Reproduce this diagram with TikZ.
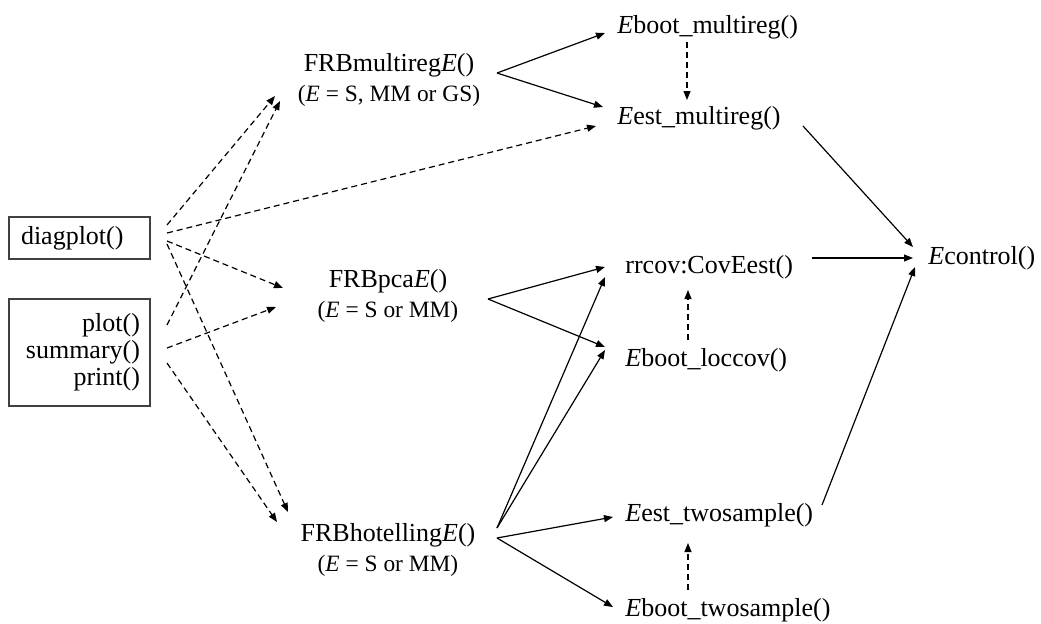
\documentclass[tikz,border=0pt]{standalone}
\usepackage{fontspec}
\setmainfont{Liberation Serif}
\usetikzlibrary{arrows.meta}
\tikzset{
	fn/.style={inner sep=1pt, font=\fontsize{13}{15}\selectfont},
	fnbox/.style={draw=black!75, line width=0.6pt, font=\fontsize{13}{13.5}\selectfont},
	call/.style={line width=0.6pt, -{Triangle[length=4.5pt,width=3.5pt]}},
	dcall/.style={call, dash pattern=on 3pt off 2pt}
}
\newcommand{\estnote}[1]{{\fontsize{11.7}{15}\selectfont(\textit{E} = #1)}}
\begin{document}
\begin{tikzpicture}[x=0.5pt, y=-0.5pt]
	\useasboundingbox (0,0) rectangle (1041,623);
	% left boxes
	\node[fnbox, minimum width=70.5pt, minimum height=21pt, inner xsep=6pt, text width=58.5pt, align=left] (diag) at (79.5,238) {diagplot()};
	\node[fnbox, minimum width=70.5pt, minimum height=53.5pt, inner xsep=5pt, text width=60.5pt, align=right] (meth) at (79.5,352.5) {plot()\\summary()\\print()};
	% FRB functions
	\node[fn, align=center] (multi) at (389,80) {FRBmultireg\textit{E}()\\\estnote{S, MM or GS}};
	\node[fn, align=center] (pca) at (388,295.5) {FRBpca\textit{E}()\\\estnote{S or MM}};
	\node[fn, align=center] (hot) at (388,550) {FRBhotelling\textit{E}()\\\estnote{S or MM}};
	% estimators and bootstraps
	\node[fn, anchor=west] (eboot) at (615,27) {\textit{E}boot\_multireg()};
	\node[fn, anchor=west] (eest) at (615,118) {\textit{E}est\_multireg()};
	\node[fn, anchor=west] (rrcov) at (623,267) {rrcov:CovEest()};
	\node[fn, anchor=west] (bootloc) at (623,360) {\textit{E}boot\_loccov()};
	\node[fn, anchor=west] (esttwo) at (623,515) {\textit{E}est\_twosample()};
	\node[fn, anchor=west] (boottwo) at (623,610) {\textit{E}boot\_twosample()};
	\node[fn, anchor=west] (ctrl) at (926,258) {\textit{E}control()};

	% dashed calls from the methods
	\draw[dcall] ([shift={(87.5,-13)}]diag.center) -- ([shift={(-114,16)}]multi.center);
	\draw[dcall] ([shift={(87.5,-5)}]diag.center) -- ([shift={(-19,8)}]eest.west);
	\draw[dcall] ([shift={(87.5,3)}]diag.center) -- ([shift={(-105,-7.5)}]pca.center);
	\draw[dcall] ([shift={(87.5,6)}]diag.center) -- ([shift={(-100,-38)}]hot.center);
	\draw[dcall] ([shift={(87.5,-27.5)}]meth.center) -- ([shift={(-109,21)}]multi.center);
	\draw[dcall] ([shift={(87.5,-4.5)}]meth.center) -- ([shift={(-112,11.5)}]pca.center);
	\draw[dcall] ([shift={(87.5,10.5)}]meth.center) -- ([shift={(-111,-28)}]hot.center);

	% multireg
	\draw[call] ([shift={(108,-7)}]multi.center) -- ([shift={(-10,6)}]eboot.west);
	\draw[call] ([shift={(108,-7)}]multi.center) -- ([shift={(-12,-11)}]eest.west);
	\draw[dcall] ([shift={(72,15)}]eboot.west) -- ([shift={(72,-18)}]eest.west);

	% pca
	\draw[call] ([shift={(100,3.5)}]pca.center) -- ([shift={(-18,0)}]rrcov.west);
	\draw[call] ([shift={(100,3.5)}]pca.center) -- ([shift={(-18,-13)}]bootloc.west);
	\draw[dcall] ([shift={(65,-20)}]bootloc.west) -- ([shift={(65,23)}]rrcov.west);

	% hotelling
	\draw[call] ([shift={(109,-22)}]hot.center) -- ([shift={(-18,10)}]rrcov.west);
	\draw[call] ([shift={(109,-22)}]hot.center) -- ([shift={(-18,-10)}]bootloc.west);
	\draw[call] ([shift={(109,-12)}]hot.center) -- ([shift={(-10,2)}]esttwo.west);
	\draw[call] ([shift={(109,-12)}]hot.center) -- ([shift={(-10,-3)}]boottwo.west);
	\draw[dcall] ([shift={(65,-20)}]boottwo.west) -- ([shift={(65,28)}]esttwo.west);

	% control
	\draw[call] ([shift={(188,8)}]eest.west) -- ([shift={(-13,-11)}]ctrl.west);
	\draw[call] ([shift={(189,-9)}]rrcov.west) -- ([shift={(-13,0)}]ctrl.west);
	\draw[call] ([shift={(199,-10)}]esttwo.west) -- ([shift={(-11,9)}]ctrl.west);
\end{tikzpicture}
\end{document}
